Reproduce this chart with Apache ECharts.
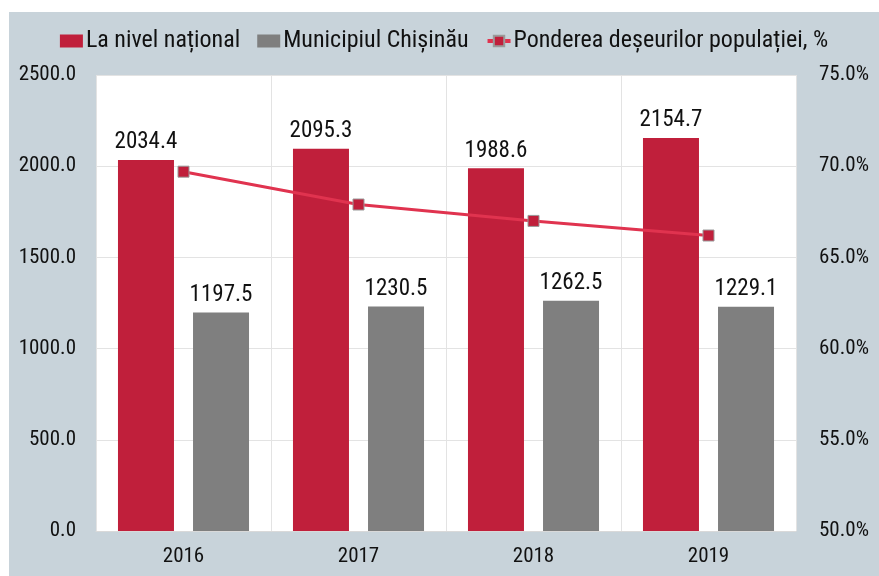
<!DOCTYPE html>
<html>
<head>
<meta charset="utf-8">
<script src="https://cdn.jsdelivr.net/npm/echarts@6/dist/echarts.min.js"></script>
<style>
  html, body { margin: 0; padding: 0; background: #fff; }
  #chart { position: absolute; left: 9px; top: 12px; width: 870px; height: 564px; background: #c8d3da; }
</style>
</head>
<body>
<div id="chart"></div>
<script>
const years = ['2016', '2017', '2018', '2019']
const national = [2034.4, 2095.3, 1988.6, 2154.7]
const chisinau = [1197.5, 1230.5, 1262.5, 1229.1]
const share = [69.7, 67.9, 67.0, 66.2]

const font = '"Liberation Sans Narrow", "Roboto Condensed", Roboto, sans-serif'
const chart = echarts.init(document.getElementById('chart'))

chart.setOption({
  textStyle: { fontFamily: font },
  legend: {
    top: 12,
    left: 'center',
    itemWidth: 23,
    itemHeight: 13,
    itemGap: 17,
    textStyle: { fontFamily: font, fontSize: 24, color: '#111', padding: [0, 0, 0, -2] },
    data: [
      { name: 'La nivel național', icon: 'rect' },
      { name: 'Municipiul Chișinău', icon: 'rect' },
      { name: 'Ponderea deșeurilor populației, %', lineStyle: { width: 4, color: '#e0334f' } }
    ]
  },
  grid: {
    left: 87, right: 83, top: 63, bottom: 45,
    show: true, backgroundColor: '#fff', borderWidth: 0
  },
  xAxis: {
    type: 'category',
    data: years,
    axisLine: { show: true, lineStyle: { color: '#d9d9d9' } },
    axisTick: { show: false },
    splitLine: { show: true, lineStyle: { color: '#e3e3e3' } },
    axisLabel: { fontSize: 21, color: '#111', margin: 15, fontFamily: font }
  },
  yAxis: [
    {
      type: 'value', min: 0, max: 2500, interval: 500,
      axisLabel: { fontSize: 21, color: '#111', margin: 20, fontFamily: font,
        formatter: v => v.toFixed(1) },
      splitLine: { lineStyle: { color: '#e3e3e3' } },
      axisLine: { show: false }, axisTick: { show: false }
    },
    {
      type: 'value', min: 50, max: 75, interval: 5,
      axisLabel: { fontSize: 21, color: '#111', margin: 23, fontFamily: font,
        formatter: v => v.toFixed(1) + '%' },
      splitLine: { show: false },
      axisLine: { show: false }, axisTick: { show: false }
    }
  ],
  series: [
    {
      name: 'La nivel național', type: 'bar', data: national,
      barWidth: 56, barGap: '34%',
      itemStyle: { color: '#c01f3b' },
      label: { show: true, position: 'top', distance: 6, fontSize: 23, color: '#111',
        fontFamily: font, formatter: p => p.value.toFixed(1) }
    },
    {
      name: 'Municipiul Chișinău', type: 'bar', data: chisinau,
      barWidth: 56,
      itemStyle: { color: '#7f7f7f' },
      label: { show: true, position: 'top', distance: 6, fontSize: 23, color: '#111',
        fontFamily: font, formatter: p => p.value.toFixed(1) }
    },
    {
      name: 'Ponderea deșeurilor populației, %', type: 'line', yAxisIndex: 1, data: share,
      symbol: 'rect', symbolSize: 11,
      lineStyle: { color: '#e0334f', width: 3 },
      itemStyle: { color: '#c01f3b', borderColor: '#9a9a9a', borderWidth: 1 },
      z: 5
    }
  ]
})
</script>
</body>
</html>
